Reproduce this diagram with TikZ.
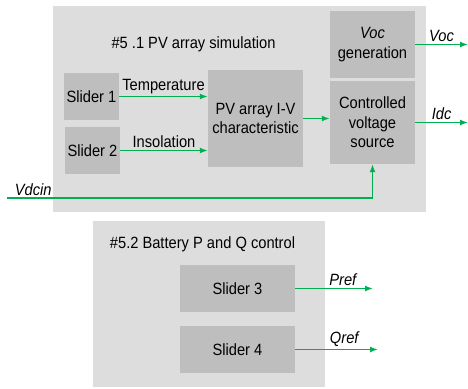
\documentclass[tikz,border=0pt]{standalone}
\usepackage{fontspec}
\setmainfont[FakeStretch=0.9]{Liberation Sans}
\usetikzlibrary{arrows.meta}
\definecolor{cPanel}{RGB}{221,221,221}
\definecolor{cBlock}{RGB}{190,190,190}
\definecolor{cSig}{RGB}{0,176,80}

\begin{document}
\begin{tikzpicture}[
  x=1pt, y=-1pt, font=\fontsize{16.3}{19.5}\selectfont,
  panel/.style={fill=cPanel, inner sep=0pt},
  blk/.style  ={fill=cBlock, align=center, inner sep=0pt},
  wS/.style   ={minimum width=55pt, minimum height=47pt},
  wL/.style   ={minimum width=115pt, minimum height=47pt},
  sig/.style  ={-{Latex[length=8pt,width=6pt]}, line width=1.5pt, draw=cSig},
  lbl/.style  ={above, inner sep=2pt, text=black},
]
\useasboundingbox (0,0) rectangle (468,388);

% panels: #5.1 top (53..426 x 6..212), #5.2 bottom (93..325 x 221..387)
\node[panel, minimum width=373pt, minimum height=206pt] (pvsim) at (239.5,109) {};
\node[panel, minimum width=232pt, minimum height=166pt] (batt)  at (209,304)   {};
\node (pvtitle)   at (193.5,44) {\#5 .1 PV array simulation};
\node (batttitle) at (202.5,244) {\#5.2 Battery P and Q control};

% ----- PV array blocks --------------------------------------------------
\node[blk,wS] (sl1) at (91.5,96.5)  {Slider 1};
\node[blk,wS] (sl2) at (92.5,150.5) {Slider 2};
\node[blk, minimum width=95pt, minimum height=97pt] (pv) at (255.5,118.5)
      {PV array I-V\\characteristic};
\node[blk, minimum width=85pt, minimum height=67pt] (voc) at (372.5,44.5)
      {\textit{Voc}\\generation};
\node[blk, minimum width=85pt, minimum height=83pt] (cvs) at (372.5,122.5)
      {Controlled\\voltage\\source};

% ----- battery blocks ---------------------------------------------------
\node[blk,wL] (sl3) at (237.5,288.5) {Slider 3};
\node[blk,wL] (sl4) at (237.5,349.5) {Slider 4};

% free ends
\coordinate (vdcin) at (7,198);
\coordinate (vocout) at (468,44.5);
\coordinate (idcout) at (468,122.5);
\coordinate (prefout) at (373,288.5);
\coordinate (qrefout) at (378,349.5);

% ----- inputs into the I-V characteristic -------------------------------
\draw[sig] (sl1.east) -- (sl1.east -| pv.west) node[midway,lbl] {Temperature};
\draw[sig] (sl2.east) -- (sl2.east -| pv.west) node[midway,lbl] {Insolation};
\draw[sig] (pv.east)  -- (pv.east -| cvs.west);

% ----- outputs and the dc voltage feed ----------------------------------
\draw[sig] (voc.east) -- (vocout) node[midway,lbl] {\textit{Voc}};
\draw[sig] (cvs.east) -- (idcout) node[midway,lbl] {\textit{Idc}};
\draw[sig] (vdcin) -| (cvs.south) node[pos=0.036,lbl] {\textit{Vdcin}};

% ----- battery set points -----------------------------------------------
\draw[sig] (sl3.east) -- (prefout) node[pos=0.62,lbl] {\textit{Pref}};
\draw[sig] (sl4.east) -- (qrefout) node[pos=0.6,lbl] {\textit{Qref}};

\end{tikzpicture}
\end{document}
